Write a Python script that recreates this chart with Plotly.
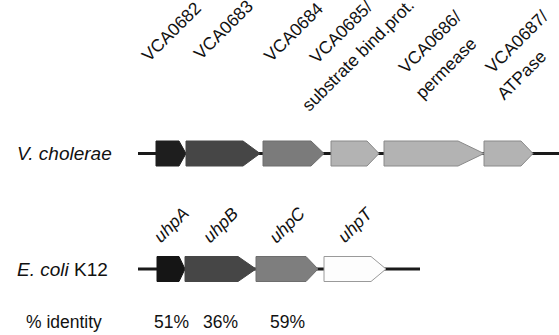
import plotly.graph_objects as go

# ---------------- data ----------------
VC_GENES = ["VCA0682", "VCA0683", "VCA0684", "VCA0685", "VCA0686", "VCA0687"]
VC_NOTES = ["", "", "", "substrate bind.prot.", "permease", "ATPase"]
VC_START = [156, 186, 263, 331, 384, 484]
VC_END = [186, 260, 324, 379, 484, 533]
VC_LOCUS = [138, 559]

EC_GENES = ["uhpA", "uhpB", "uhpC", "uhpT"]
EC_START = [157, 185, 256, 324]
EC_END = [185, 256, 318, 386]
EC_LOCUS = [138, 420]

IDENTITY = [51, 36, 59]          # % identity of uhpA, uhpB, uhpC to VCA0682-84

# ---------------- styles ----------------
VC_FILL = ["#1e1e1e", "#464646", "#7b7b7b", "#b3b3b3", "#b3b3b3", "#b3b3b3"]
VC_EDGE = ["#1e1e1e", "#464646", "#6e6e6e", "#8a8a8a", "#8a8a8a", "#8a8a8a"]
VC_HEAD = [7, 17, 13, 12, 26, 12]
EC_FILL = ["#151515", "#464646", "#7e7e7e", "#fdfdfd"]
EC_EDGE = ["#151515", "#464646", "#6e6e6e", "#9a9a9a"]
EC_HEAD = [6, 18, 12, 15]

Y_VC, Y_EC, Y_ID = 153.5, 269, 322
HALF = 12.5
FONT = "Liberation Sans, Arial, sans-serif"
ANG = -45

fig = go.Figure()


def add_locus(locus, y):
    fig.add_trace(go.Scatter(x=locus, y=[y, y], mode="lines",
                             line=dict(color="#1a1a1a", width=3),
                             hoverinfo="skip", showlegend=False))


def add_arrow(s, e, y, head, fill, edge):
    hs = e - head
    fig.add_trace(go.Scatter(
        x=[s, hs, e, hs, s, s], y=[y - HALF, y - HALF, y, y + HALF, y + HALF, y - HALF],
        mode="lines", fill="toself", fillcolor=fill,
        line=dict(color=edge, width=1), hoverinfo="skip", showlegend=False))


add_locus(VC_LOCUS, Y_VC)
add_locus(EC_LOCUS, Y_EC)
for i in range(len(VC_GENES)):
    add_arrow(VC_START[i], VC_END[i], Y_VC, VC_HEAD[i], VC_FILL[i], VC_EDGE[i])
for i in range(len(EC_GENES)):
    add_arrow(EC_START[i], EC_END[i], Y_EC, EC_HEAD[i], EC_FILL[i], EC_EDGE[i])

ann = []


def label(text, x, y, size=17.5, angle=ANG, xanchor="center"):
    ann.append(dict(text=text, x=x, y=y, xref="x", yref="y", showarrow=False,
                    textangle=angle, xanchor=xanchor, yanchor="middle",
                    font=dict(family=FONT, size=size, color="#111111")))


# gene names above V. cholerae (offsets are label placement)
VC_LINE1_DY = [32, 30, 32, 32, 42, 42]
VC_LINE1_DX = [0, 0, 0, -14, -4, 8]
VC_LINE2_POS = [None, None, None, (3, 55), (12, 68), (13, 75)]
for i, g in enumerate(VC_GENES):
    mid = (VC_START[i] + VC_END[i]) / 2
    t1 = g + ("/" if VC_NOTES[i] else "")
    label(t1, mid + VC_LINE1_DX[i], VC_LINE1_DY[i])
    if VC_NOTES[i]:
        dx, yy = VC_LINE2_POS[i]
        label(VC_NOTES[i], mid + dx, yy)

for i, g in enumerate(EC_GENES):
    mid = (EC_START[i] + EC_END[i]) / 2
    label("<i>" + g + "</i>", mid, 225, size=17.5)

for i, v in enumerate(IDENTITY):
    mid = (EC_START[i] + EC_END[i]) / 2
    label(f"{v}%", mid, Y_ID, size=17.5, angle=0)

label("<i>V. cholerae</i>", 15, Y_VC, size=19, angle=0, xanchor="left")
label("<i>E. coli</i> K12", 15, Y_EC, size=19, angle=0, xanchor="left")
label("% identity", 24, Y_ID, size=17.5, angle=0, xanchor="left")

fig.update_layout(
    width=559, height=335, margin=dict(l=0, r=0, t=0, b=0),
    paper_bgcolor="white", plot_bgcolor="white",
    xaxis=dict(range=[0, 559], visible=False, fixedrange=True),
    yaxis=dict(range=[335, 0], visible=False, fixedrange=True),
    annotations=ann, showlegend=False,
)
fig.write_html("out.html", config={"displayModeBar": False},
               post_script="document.body.style.margin='0px';document.body.style.overflow='hidden';")
